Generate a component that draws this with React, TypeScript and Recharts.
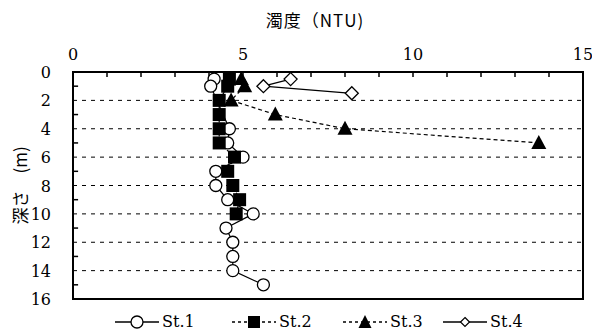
import React from 'react';
import {
  ScatterChart,
  Scatter,
  XAxis,
  YAxis,
  CartesianGrid,
  ReferenceLine,
  ReferenceArea,
  Legend,
} from 'recharts';

// ---- data ----
const xTicks = [0, 5, 10, 15];
const yTicks = [0, 2, 4, 6, 8, 10, 12, 14, 16];
const topMinorTicks = [1, 2, 3, 4, 5, 6, 7, 8, 9, 10, 11, 12, 13, 14];
const leftMinorTicks = [1, 3, 5, 7, 9, 11, 13, 15];

const st1Depth = [0.5, 1, 4, 5, 6, 7, 8, 9, 10, 11, 12, 13, 14, 15];
const st1Turb = [4.15, 4.05, 4.6, 4.55, 5.0, 4.2, 4.2, 4.55, 5.3, 4.5, 4.7, 4.7, 4.7, 5.6];

const st2Depth = [0.5, 1, 2, 3, 4, 5, 6, 7, 8, 9, 10];
const st2Turb = [4.6, 4.55, 4.3, 4.3, 4.3, 4.3, 4.75, 4.55, 4.7, 4.9, 4.8];

const st3Depth = [0.5, 1, 2, 3, 4, 5];
const st3Turb = [4.95, 5.05, 4.65, 5.95, 8.0, 13.7];

const st4Depth = [0.5, 1, 1.5];
const st4Turb = [6.4, 5.6, 8.2];

const seriesNames = ['St.1', 'St.2', 'St.3', 'St.4'];

const toPts = (xs: number[], ys: number[]) => xs.map((x, i) => ({ x, y: ys[i] }));
const st1 = toPts(st1Turb, st1Depth);
const st2 = toPts(st2Turb, st2Depth);
const st3 = toPts(st3Turb, st3Depth);
const st4 = toPts(st4Turb, st4Depth);

const FONT = '"DejaVu Serif", "Liberation Serif", "Noto Sans CJK JP", serif';
const CJK = '"Noto Sans CJK JP", "DejaVu Serif", serif';

const CircleShape = (p: any) => (
  <circle cx={p.cx} cy={p.cy} r={6} fill="#fff" stroke="#000" strokeWidth={1.3} />
);
const SquareShape = (p: any) => (
  <rect x={p.cx - 6.5} y={p.cy - 6.5} width={13} height={13} fill="#000" />
);
const TriangleShape = (p: any) => (
  <polygon
    points={`${p.cx},${p.cy - 8} ${p.cx - 7.5},${p.cy + 6} ${p.cx + 7.5},${p.cy + 6}`}
    fill="#000"
  />
);
const DiamondShape = (p: any) => (
  <polygon
    points={`${p.cx},${p.cy - 6.5} ${p.cx + 6.5},${p.cy} ${p.cx},${p.cy + 6.5} ${p.cx - 6.5},${p.cy}`}
    fill="#fff"
    stroke="#000"
    strokeWidth={1.3}
  />
);

const XTick = (p: any) => (
  <text
    x={p.x}
    y={p.y}
    textAnchor="middle"
    style={{ fontFamily: FONT, fontSize: 16, fill: '#000' }}
  >
    {p.payload.value}
  </text>
);

const YTick = (p: any) => (
  <text
    x={p.x}
    y={p.y}
    dy={6}
    textAnchor="end"
    style={{ fontFamily: FONT, fontSize: 16, fill: '#000' }}
  >
    {p.payload.value}
  </text>
);

const legendLefts = [115, 232, 343, 443];

const LegendIcon = ({ idx }: { idx: number }) => {
  const w = 44;
  const c = w / 2;
  const dashed = idx === 1 || idx === 2;
  let marker: any = null;
  if (idx === 0) marker = <circle cx={c} cy={9} r={6} fill="#fff" stroke="#000" strokeWidth={1.3} />;
  if (idx === 1) marker = <rect x={c - 6} y={3} width={12} height={12} fill="#000" />;
  if (idx === 2) marker = <polygon points={`${c},2 ${c - 6.5},15 ${c + 6.5},15`} fill="#000" />;
  if (idx === 3)
    marker = (
      <polygon
        points={`${c},4.5 ${c + 4.5},9 ${c},13.5 ${c - 4.5},9`}
        fill="#fff"
        stroke="#000"
        strokeWidth={1.2}
      />
    );
  return (
    <svg width={w} height={18} style={{ display: 'block', flex: '0 0 auto' }}>
      <line
        x1={0}
        y1={9}
        x2={w}
        y2={9}
        stroke="#000"
        strokeWidth={1.3}
        strokeDasharray={dashed ? '3 3' : undefined}
      />
      {marker}
    </svg>
  );
};

const renderLegend = () => (
  <div style={{ position: 'relative', width: 592, height: 18 }}>
    {seriesNames.map((n, i) => (
      <div
        key={n}
        style={{
          position: 'absolute',
          left: legendLefts[i],
          top: 0,
          height: 18,
          display: 'flex',
          alignItems: 'center',
          whiteSpace: 'nowrap',
          fontFamily: FONT,
          fontSize: 16,
          color: '#000',
          lineHeight: '18px',
        }}
      >
        <LegendIcon idx={i} />
        <span style={{ marginLeft: 3 }}>{n}</span>
      </div>
    ))}
  </div>
);

const XTitle = (props: any) => {
  const vb = props.viewBox || {};
  return (
    <text
      x={vb.x + vb.width / 2 - 13}
      y={27}
      textAnchor="middle"
      style={{ fontFamily: CJK, fontSize: 17, fill: '#000', letterSpacing: 1 }}
    >
      濁度（NTU)
    </text>
  );
};

const YTitle = (props: any) => {
  const vb = props.viewBox || {};
  const cx = vb.x + 19;
  const cy = vb.y + vb.height / 2;
  return (
    <text
      x={cx}
      y={cy}
      transform={`rotate(-90 ${cx} ${cy})`}
      textAnchor="middle"
      dominantBaseline="central"
      style={{ fontFamily: CJK, fontSize: 17, fill: '#000' }}
    >
      深さ　(m)
    </text>
  );
};

export default function App() {
  return (
    <div style={{ position: 'absolute', left: 0, top: 0, width: 592, height: 332, background: '#fff' }}>
      <ScatterChart width={592} height={332} margin={{ top: 50, right: 9, bottom: 33, left: 0 }}>
        <CartesianGrid
          vertical={false}
          horizontal
          stroke="#000"
          strokeDasharray="4 5"
          strokeWidth={1}
        />
        <XAxis
          type="number"
          dataKey="x"
          orientation="top"
          domain={[0, 15]}
          ticks={xTicks}
          allowDataOverflow
          height={22}
          axisLine={false}
          tickLine={false}
          tickSize={0}
          tickMargin={12}
          tick={XTick}
          label={{ content: XTitle }}
        />
        <YAxis
          type="number"
          dataKey="y"
          reversed
          domain={[0, 16]}
          ticks={yTicks}
          allowDataOverflow
          width={73}
          axisLine={false}
          tickLine={false}
          tickSize={0}
          tickMargin={22}
          tick={YTick}
          label={{ content: YTitle }}
        />
        {topMinorTicks.map((t) => (
          <ReferenceLine
            key={'tt' + t}
            segment={[
              { x: t, y: 0 },
              { x: t, y: 0.35 },
            ]}
            stroke="#000"
            strokeWidth={1.5}
            ifOverflow="visible"
          />
        ))}
        {leftMinorTicks.map((t) => (
          <ReferenceLine
            key={'lt' + t}
            segment={[
              { x: 0, y: t },
              { x: 0.15, y: t },
            ]}
            stroke="#000"
            strokeWidth={1.5}
            ifOverflow="visible"
          />
        ))}
        <ReferenceArea
          x1={0}
          x2={15}
          y1={0}
          y2={16}
          fill="none"
          fillOpacity={0}
          stroke="#000"
          strokeWidth={2}
          ifOverflow="visible"
        />
        <Scatter
          name="St.1"
          data={st1}
          isAnimationActive={false}
          line={{ stroke: '#000', strokeWidth: 1.2 }}
          lineJointType="linear"
          shape={CircleShape}
        />
        <Scatter
          name="St.2"
          data={st2}
          isAnimationActive={false}
          line={{ stroke: '#000', strokeWidth: 1.2, strokeDasharray: '4 3' }}
          lineJointType="linear"
          shape={SquareShape}
        />
        <Scatter
          name="St.3"
          data={st3}
          isAnimationActive={false}
          line={{ stroke: '#000', strokeWidth: 1.2, strokeDasharray: '4 3' }}
          lineJointType="linear"
          shape={TriangleShape}
        />
        <Scatter
          name="St.4"
          data={st4}
          isAnimationActive={false}
          line={{ stroke: '#000', strokeWidth: 1.2 }}
          lineJointType="linear"
          shape={DiamondShape}
        />
        <Legend
          verticalAlign="middle"
          align="center"
          layout="horizontal"
          wrapperStyle={{ top: 313, left: 0, width: 592, height: 18 }}
          content={renderLegend}
        />
      </ScatterChart>
    </div>
  );
}
